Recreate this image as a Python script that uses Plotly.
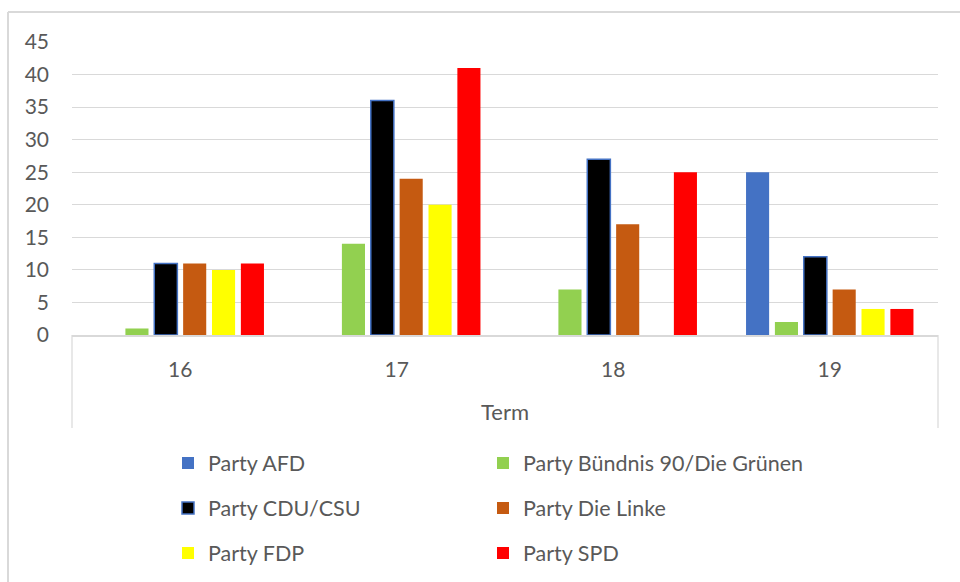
import plotly.graph_objects as go

terms = ["16", "17", "18", "19"]
parties = ["Party AFD", "Party Bündnis 90/Die Grünen", "Party CDU/CSU",
           "Party Die Linke", "Party FDP", "Party SPD"]
afd = [0, 0, 0, 25]
gruene = [1, 14, 7, 2]
cdu = [11, 36, 27, 12]
linke = [11, 24, 17, 7]
fdp = [10, 20, 0, 4]
spd = [11, 41, 25, 4]
series = [afd, gruene, cdu, linke, fdp, spd]
colors = ["#4472C4", "#92D050", "#000000", "#C55A11", "#FFFF00", "#FF0000"]

W, H = 960, 582
PL, PR, PT, PB = 72, 938, 42, 335  # plot area in pixels

def px_x(px):
    return (px - PL) / (PR - PL)

def px_y(py):
    return (PB - py) / (PB - PT)

legend_ids = ["legend", "legend2", "legend3", "legend4", "legend5", "legend6"]
# legend placement (pixels): two columns, three rows
leg_x = [168, 483, 168, 483, 168, 483]
leg_y = [463, 463, 508, 508, 553, 553]

fam = "Lato, 'Open Sans', sans-serif"
tick_font = dict(family=fam, size=21, color="#595959")
leg_font = dict(family=fam, size=21.5, color="#595959")
title_font = dict(family=fam, size=22, color="#595959")
gray = "#D9D9D9"

fig = go.Figure()
for name, vals, col, lg in zip(parties, series, colors, legend_ids):
    line = dict(width=1.5, color="#4472C4") if name == "Party CDU/CSU" else dict(width=0)
    fig.add_trace(go.Bar(x=terms, y=vals, name=name, marker=dict(color=col, line=line),
                         legend=lg))

shapes = [
    # outer chart border (top and left)
    dict(type="line", xref="paper", yref="paper", x0=px_x(8), x1=px_x(970),
         y0=px_y(12), y1=px_y(12), line=dict(color=gray, width=2)),
    dict(type="line", xref="paper", yref="paper", x0=px_x(8), x1=px_x(8),
         y0=px_y(12), y1=px_y(600), line=dict(color=gray, width=2)),
    # category axis box sides
    dict(type="line", xref="paper", yref="paper", x0=0, x1=0,
         y0=0, y1=px_y(428), line=dict(color=gray, width=1.2)),
    dict(type="line", xref="paper", yref="paper", x0=1, x1=1,
         y0=0, y1=px_y(428), line=dict(color=gray, width=1.2)),
]

layout_legends = {}
for lg, lx, ly in zip(legend_ids, leg_x, leg_y):
    layout_legends[lg] = dict(orientation="h", xref="container", yref="container",
                              x=lx / W, y=1 - ly / H, xanchor="left", yanchor="middle",
                              font=leg_font, bgcolor="rgba(0,0,0,0)", itemclick=False)

fig.update_layout(
    width=W, height=H,
    margin=dict(l=PL, r=W - PR, t=PT, b=H - PB),
    paper_bgcolor="white", plot_bgcolor="white",
    font=tick_font,
    barmode="group", bargap=0.2, bargroupgap=0.2,
    xaxis=dict(type="category", showline=True, linecolor=gray, linewidth=1.5,
               showgrid=False, ticks="", ticklabelstandoff=15, tickfont=tick_font,
               title=dict(text="Term", font=title_font, standoff=25)),
    yaxis=dict(range=[0, 45], dtick=5, showgrid=True, gridcolor=gray, gridwidth=1,
               zeroline=False, showline=False, ticks="", ticklabelstandoff=22,
               tickfont=tick_font),
    shapes=shapes,
    showlegend=True,
    **layout_legends,
)

fig.write_html("out.html")
